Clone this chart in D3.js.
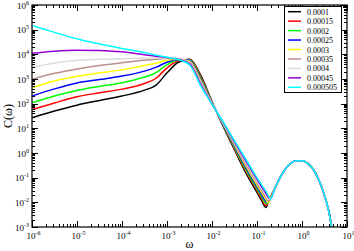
<!DOCTYPE html>
<html>
<head>
<meta charset="utf-8">
<script src="https://cdn.jsdelivr.net/npm/d3@7"></script>
<style>
  body { margin: 0; background: #fff; }
  svg { display: block; }
  text { font-family: "Liberation Serif", "Times New Roman", serif; fill: #000; }
</style>
</head>
<body>
<svg width="354" height="251"></svg>
<script>
// values, as log10 exponents
const logOmega = [-6, -5.5, -5, -4.5, -4, -3.5, -3.25, -3, -2.75, -2.5, -2.25, -2, -1.75, -1.5, -1.25, -1,
  -0.9, -0.8, -0.75, -0.7, -0.6, -0.45, -0.3, -0.15, 0, 0.15, 0.3, 0.45, 0.6, 0.7];

const tail = [-1.42, -0.88, -0.50, -0.32, -0.31, -0.45, -0.82, -1.45, -2.4, -3.5];

const c0001   = [1.43, 1.70, 1.94, 2.13, 2.31, 2.55, 2.74, 3.25, 3.68, 3.80, 3.15, 2.08, 1.08, 0.13, -0.80, -1.60, -1.92, -2.21, -1.99, -1.78, ...tail];
const c00015  = [1.76, 2.03, 2.28, 2.44, 2.59, 2.82, 3.02, 3.45, 3.74, 3.79, 3.10, 2.06, 1.10, 0.18, -0.73, -1.52, -1.84, -2.13, -2.02, -1.80, ...tail];
const c0002   = [2.04, 2.31, 2.53, 2.70, 2.85, 3.08, 3.25, 3.58, 3.77, 3.78, 3.05, 2.05, 1.12, 0.22, -0.66, -1.45, -1.76, -2.05, -2.01, -1.80, ...tail];
const c00025  = [2.31, 2.60, 2.84, 2.98, 3.12, 3.32, 3.47, 3.68, 3.79, 3.76, 3.00, 2.04, 1.14, 0.27, -0.59, -1.37, -1.68, -1.97, -2.02, -1.81, ...tail];
const c0003   = [2.65, 2.92, 3.11, 3.25, 3.37, 3.55, 3.64, 3.76, 3.80, 3.73, 2.95, 2.02, 1.17, 0.32, -0.52, -1.30, -1.60, -1.89, -2.03, -1.82, ...tail];
const c00035  = [2.99, 3.23, 3.41, 3.55, 3.66, 3.76, 3.80, 3.83, 3.81, 3.70, 2.90, 2.01, 1.19, 0.36, -0.46, -1.22, -1.52, -1.81, -1.95, -1.83, ...tail];
const c0004   = [3.47, 3.65, 3.76, 3.80, 3.82, 3.84, 3.85, 3.85, 3.81, 3.66, 2.84, 2.00, 1.21, 0.41, -0.39, -1.15, -1.44, -1.73, -1.87, -1.84, ...tail];
const c00045  = [4.04, 4.13, 4.17, 4.16, 4.10, 3.98, 3.92, 3.87, 3.80, 3.62, 2.78, 1.98, 1.23, 0.45, -0.32, -1.07, -1.36, -1.65, -1.79, -1.85, ...tail];
const c000505 = [5.17, 4.89, 4.63, 4.42, 4.24, 4.07, 3.97, 3.88, 3.79, 3.58, 2.72, 1.97, 1.25, 0.50, -0.25, -1.00, -1.28, -1.56, -1.72, -1.86, ...tail];

const labels = ["0.0001", "0.00015", "0.0002", "0.00025", "0.0003", "0.00035", "0.0004", "0.00045", "0.000505"];
const colors = ["#000000", "#ff0000", "#00ff00", "#0000ff", "#ffff00", "#bc8f8f", "#dcdcdc", "#9400d3", "#00ffff"];
const seriesValues = [c0001, c00015, c0002, c00025, c0003, c00035, c0004, c00045, c000505];

const xDecades = [-6, -5, -4, -3, -2, -1, 0, 1];
const yDecades = [-3, -2, -1, 0, 1, 2, 3, 4, 5, 6];

const svg = d3.select("svg");
const L = 32, R = 347, T = 5, B = 227;

const x = d3.scaleLog().domain([1e-6, 10]).range([L, R]);
const y = d3.scaleLog().domain([1e-3, 1e6]).range([B, T]);

svg.append("clipPath").attr("id", "clip")
  .append("rect").attr("x", L).attr("y", T).attr("width", R - L).attr("height", B - T);

const line = d3.line()
  .x(d => x(Math.pow(10, d[0])))
  .y(d => y(Math.pow(10, d[1])))
  .curve(d3.curveMonotoneX);

const g = svg.append("g").attr("clip-path", "url(#clip)");
seriesValues.forEach(function(vals, i) {
  g.append("path")
    .datum(logOmega.map((lw, k) => [lw, vals[k]]))
    .attr("d", line)
    .attr("fill", "none")
    .attr("stroke", colors[i])
    .attr("stroke-width", 1.5);
});

// ticks on all four sides, pointing inward
function minorList(decs) {
  const out = [];
  for (let k = 0; k < decs.length - 1; k++) {
    for (let m = 1; m <= 9; m++) out.push({ v: m * Math.pow(10, decs[k]), major: m === 1 });
  }
  out.push({ v: Math.pow(10, decs[decs.length - 1]), major: true });
  return out;
}
const tk = svg.append("g").attr("stroke", "#000").attr("stroke-width", 1);
minorList(xDecades).forEach(function(t) {
  const len = t.major ? 6 : 3;
  const px = Math.round(x(t.v)) + 0.5;
  tk.append("line").attr("x1", px).attr("x2", px).attr("y1", B).attr("y2", B - len);
  tk.append("line").attr("x1", px).attr("x2", px).attr("y1", T).attr("y2", T + len);
});
minorList(yDecades).forEach(function(t) {
  const len = t.major ? 6 : 3;
  const py = Math.round(y(t.v)) + 0.5;
  tk.append("line").attr("y1", py).attr("y2", py).attr("x1", L).attr("x2", L + len);
  tk.append("line").attr("y1", py).attr("y2", py).attr("x1", R).attr("x2", R - len);
});

svg.append("rect")
  .attr("x", L).attr("y", T).attr("width", R - L).attr("height", B - T)
  .attr("fill", "none").attr("stroke", "#000").attr("stroke-width", 1.2);

// tick labels
xDecades.forEach(function(d) {
  const t = svg.append("text")
    .attr("x", x(Math.pow(10, d)) + 1.5).attr("y", 239)
    .attr("text-anchor", "middle").attr("font-size", 9);
  t.append("tspan").text("10");
  t.append("tspan").attr("dy", -4).attr("font-size", 6).text(d);
});
yDecades.forEach(function(d) {
  const t = svg.append("text")
    .attr("x", 29).attr("y", y(Math.pow(10, d)) + 3.5)
    .attr("text-anchor", "end").attr("font-size", 9);
  t.append("tspan").text("10");
  t.append("tspan").attr("dy", -4).attr("font-size", 6).text(d);
});

// axis titles
svg.append("text").attr("x", (L + R) / 2).attr("y", 248)
  .attr("text-anchor", "middle").attr("font-size", 12).text("ω");
svg.append("text")
  .attr("transform", "translate(12," + ((T + B) / 2) + ") rotate(-90)")
  .attr("text-anchor", "middle").attr("font-size", 12).text("C(ω)");

// legend
const lg = svg.append("g");
lg.append("rect").attr("x", 284.5).attr("y", 6.5).attr("width", 57).attr("height", 86)
  .attr("fill", "#fff").attr("stroke", "#000").attr("stroke-width", 1);
labels.forEach(function(lab, i) {
  const yy = 11.7 + 9.45 * i;
  lg.append("line").attr("x1", 288).attr("x2", 301).attr("y1", yy).attr("y2", yy)
    .attr("stroke", colors[i]).attr("stroke-width", 1.5);
  lg.append("text").attr("x", 307).attr("y", yy + 3).attr("font-size", 8).text(lab);
});
</script>
</body>
</html>
